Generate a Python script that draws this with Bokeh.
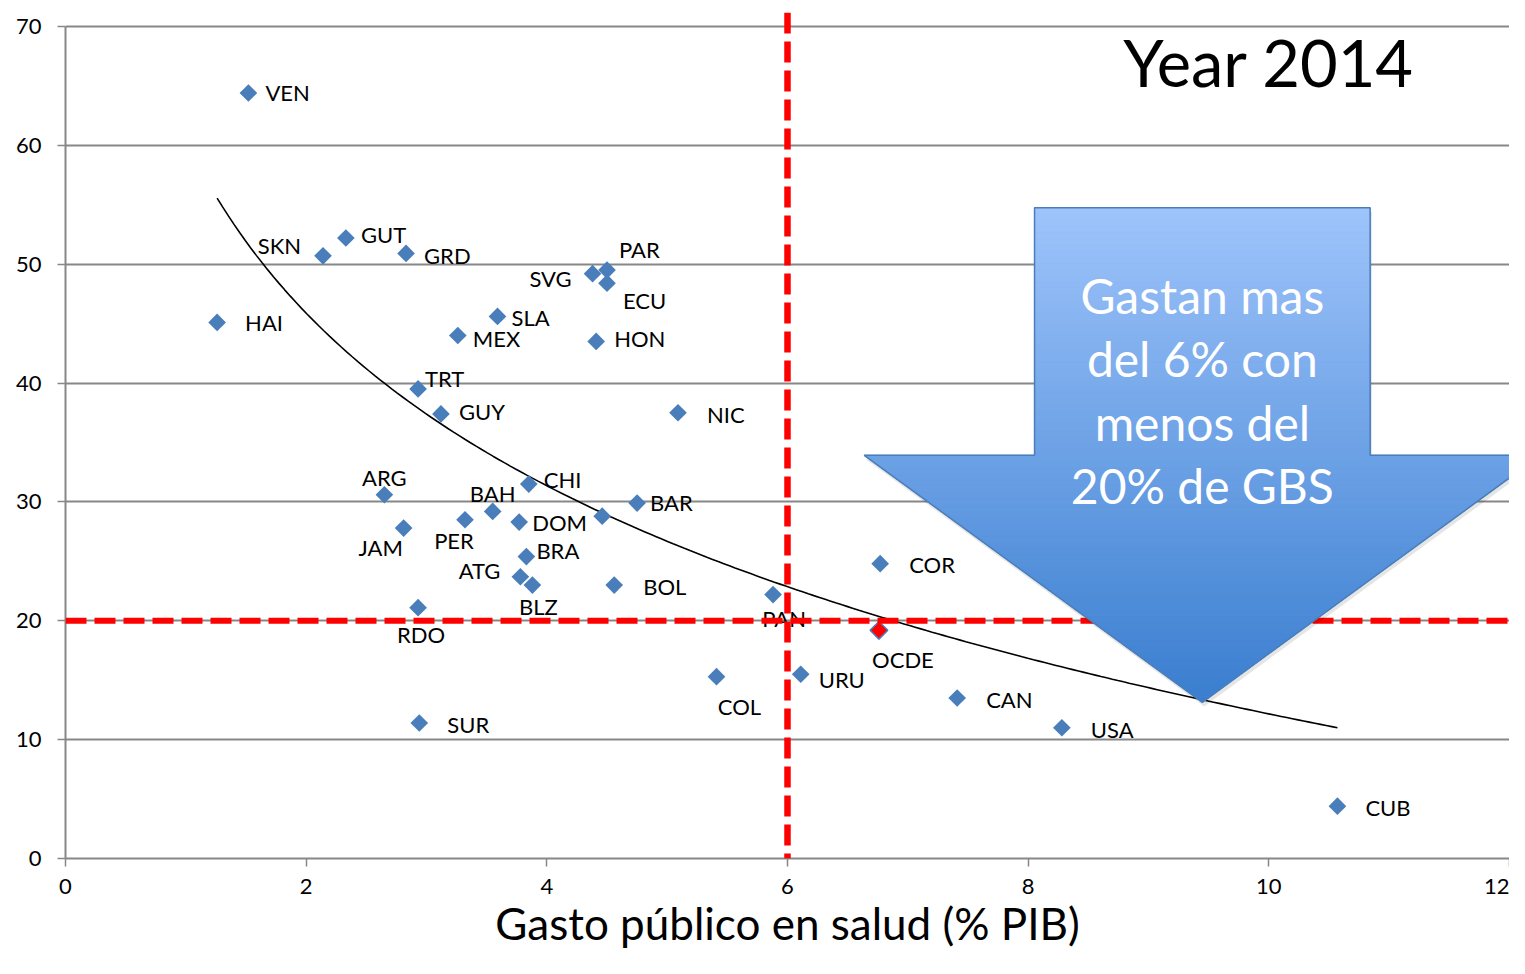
import numpy as np
from bokeh.plotting import figure
from bokeh.models import Range1d, FixedTicker, Span, Label, ColumnDataSource
from bokeh.core.properties import value
from bokeh.embed import file_html
from bokeh.resources import INLINE

# ---------------- data ----------------
countries = ["VEN", "SKN", "GUT", "GRD", "HAI", "SVG", "PAR", "ECU", "SLA", "MEX",
             "HON", "TRT", "GUY", "NIC", "ARG", "CHI", "BAH", "PER", "JAM", "DOM",
             "", "BAR", "BRA", "ATG", "BLZ", "BOL", "RDO", "PAN", "COR", "COL",
             "URU", "CAN", "USA", "SUR", "CUB"]
gasto_publico = [1.52, 2.14, 2.33, 2.83, 1.26, 4.38, 4.50, 4.50, 3.59, 3.26,
                 4.41, 2.93, 3.12, 5.09, 2.65, 3.85, 3.55, 3.32, 2.81, 3.77,
                 4.46, 4.75, 3.83, 3.78, 3.88, 4.56, 2.93, 5.88, 6.77, 5.41,
                 6.11, 7.41, 8.28, 2.94, 10.57]
gbs = [64.4, 50.7, 52.2, 50.9, 45.1, 49.2, 49.5, 48.4, 45.6, 44.0,
       43.5, 39.5, 37.4, 37.5, 30.6, 31.5, 29.2, 28.5, 27.8, 28.3,
       28.8, 29.9, 25.4, 23.7, 23.0, 23.0, 21.1, 22.2, 24.8, 15.3,
       15.5, 13.5, 11.0, 11.4, 4.4]
ocde_label = ["OCDE"]
ocde_gasto = [6.76]
ocde_gbs = [19.2]

umbral_gasto = 6
umbral_gbs = 20

x_ticks = [0, 2, 4, 6, 8, 10, 12]
y_ticks = [0, 10, 20, 30, 40, 50, 60, 70]
x_title = "Gasto público en salud (% PIB)"
year_title = "Year 2014"
arrow_lines = ["Gastan mas", "del 6% con", "menos del", "20% de GBS"]

# ---------------- label placement (style: align, dx px, dy px) ----------------
label_style = {
    "VEN": ("left", 17, 0), "SKN": ("right", -22, -10), "GUT": ("left", 15, -3),
    "GRD": ("left", 18, 2), "HAI": ("left", 28, 0), "SVG": ("right", -21, 5),
    "PAR": ("left", 12, -21), "ECU": ("left", 16, 17), "SLA": ("left", 14, 1),
    "MEX": ("left", 15, 3), "HON": ("left", 18, -3), "TRT": ("left", 7, -10),
    "GUY": ("left", 18, -2), "NIC": ("left", 29, 2), "ARG": ("center", 0, -17),
    "CHI": ("left", 15, -5), "BAH": ("center", 0, -18), "PER": ("center", -11, 21),
    "JAM": ("center", -23, 19), "DOM": ("left", 13, 0), "BAR": ("left", 13, -1),
    "BRA": ("left", 10, -6), "ATG": ("right", -20, -6), "BLZ": ("center", 6, 21),
    "BOL": ("left", 29, 1), "RDO": ("center", 3, 27), "PAN": ("center", 11, 24),
    "COR": ("left", 29, 1), "OCDE": ("center", 24, 29), "COL": ("center", 23, 30),
    "URU": ("left", 18, 5), "CAN": ("left", 29, 1), "USA": ("left", 29, 2),
    "SUR": ("left", 28, 2), "CUB": ("left", 28, 1),
}

FONT = "Lato"
BLUE = "#4A7EBB"
GRID = "#878787"

p = figure(width=1509, height=958, output_backend="svg", toolbar_location=None,
           x_range=Range1d(0, 12), y_range=Range1d(0, 846 / 11.887),
           min_border_left=65, min_border_right=0, min_border_top=12, min_border_bottom=100)
p.outline_line_color = None
p.background_fill_color = "white"
p.border_fill_color = "white"

# axes
for ax in (p.xaxis, p.yaxis):
    ax.axis_line_color = GRID
    ax.axis_line_width = 2
    ax.major_tick_line_color = GRID
    ax.major_tick_line_width = 1.5
    ax.major_tick_out = 8
    ax.major_tick_in = 0
    ax.minor_tick_line_color = None
    ax.major_label_text_font = FONT
    ax.major_label_text_font_size = "22px"
    ax.major_label_text_color = "black"
p.xaxis.ticker = FixedTicker(ticks=x_ticks)
p.yaxis.ticker = FixedTicker(ticks=y_ticks)
p.xaxis.bounds = (x_ticks[0], x_ticks[-1])
p.yaxis.bounds = (y_ticks[0], y_ticks[-1])
p.xaxis.major_label_standoff = 12
p.yaxis.major_label_standoff = 16
p.xaxis.axis_label = x_title
p.xaxis.axis_label_text_font = FONT
p.xaxis.axis_label_text_font_size = "44px"
p.xaxis.axis_label_text_font_style = "normal"
p.xaxis.axis_label_text_color = "black"
p.xaxis.axis_label_standoff = 0
p.xgrid.visible = False
p.ygrid.grid_line_color = GRID
p.ygrid.grid_line_width = 2

# trendline: logarithmic least-squares fit of the data
all_x = np.array(gasto_publico)
all_y = np.array(gbs)
b, a = np.polyfit(np.log(all_x), all_y, 1)
tx = np.linspace(all_x.min(), all_x.max(), 200)
p.line(tx, a + b * np.log(tx), line_color="black", line_width=1.6)

# points
p.scatter(gasto_publico, gbs, marker="square", angle=np.pi / 4, size=12.5,
          fill_color=BLUE, line_color=None)
p.scatter(ocde_gasto, ocde_gbs, marker="square", angle=np.pi / 4, size=12.5,
          fill_color="red", line_color=BLUE, line_width=1.5)

# labels
names = countries + ocde_label
lx = gasto_publico + ocde_gasto
ly = gbs + ocde_gbs
for align in ("left", "center", "right"):
    d = dict(x=[], y=[], t=[], dx=[], dy=[])
    for n, xx, yy in zip(names, lx, ly):
        if n and label_style[n][0] == align:
            d["x"].append(xx); d["y"].append(yy); d["t"].append(n)
            d["dx"].append(label_style[n][1]); d["dy"].append(label_style[n][2])
    p.text("x", "y", text="t", x_offset="dx", y_offset="dy", source=ColumnDataSource(d),
           text_align=align, text_baseline="middle", text_font=value(FONT),
           text_font_size="22px", text_color="black")

# threshold lines
p.add_layout(Span(location=umbral_gbs, dimension="width", line_color="red",
                  line_width=6, line_dash="21 8"))
p.add_layout(Span(location=umbral_gasto, dimension="height", line_color="red",
                  line_width=6.5, line_dash="21 8"))

# gradient arrow (annotation shape)
cx = 9.4475
shaft_half = 1.3945
head_half = 2.81
shaft_top, head_top, tip_y = 54.74, 33.92, 13.14
c_top = np.array([158, 196, 251])
c_bot = np.array([58, 126, 207])

def col(yv):
    t = (shaft_top - yv) / (shaft_top - tip_y)
    c = c_top + (c_bot - c_top) * t
    return "#%02x%02x%02x" % tuple(int(round(v)) for v in c)

def w_head(yv):
    return head_half * (yv - tip_y) / (head_top - tip_y)

xs, ys, cs = [], [], []
sb = np.linspace(shaft_top, head_top, 41)
for ya, yb in zip(sb[:-1], sb[1:]):
    xs.append([cx - shaft_half, cx + shaft_half, cx + shaft_half, cx - shaft_half])
    ys.append([ya, ya, yb, yb]); cs.append(col((ya + yb) / 2))
hb = np.linspace(head_top, tip_y, 41)
for ya, yb in zip(hb[:-1], hb[1:]):
    xs.append([cx - w_head(ya), cx + w_head(ya), cx + w_head(yb), cx - w_head(yb)])
    ys.append([ya, ya, yb, yb]); cs.append(col((ya + yb) / 2))

outline_x = [cx - shaft_half, cx + shaft_half, cx + shaft_half, cx + head_half, cx,
             cx - head_half, cx - shaft_half]
outline_y = [shaft_top, shaft_top, head_top, head_top, tip_y, head_top, head_top]

p.patch([v + 0.015 for v in outline_x], [v - 0.35 for v in outline_y],
        fill_color="black", fill_alpha=0.10, line_color=None, level="overlay")
p.patches(xs, ys, fill_color=cs, line_color=cs, line_width=1, level="overlay")
p.patch(outline_x, outline_y, fill_color=None, line_color=BLUE, line_width=1.5,
        level="overlay")

base_y = 47.38
for i, line in enumerate(arrow_lines):
    p.add_layout(Label(x=cx, y=base_y - i * 5.33, text=line, text_align="center",
                       text_baseline="alphabetic", text_font=FONT,
                       text_font_size="48px", text_color="white", level="overlay"))

p.add_layout(Label(x=10.0, y=66.98, text=year_title, text_align="center",
                   text_baseline="alphabetic", text_font=FONT,
                   text_font_size="65px", text_color="black"))

open("out.html", "w").write(file_html(p, INLINE))
